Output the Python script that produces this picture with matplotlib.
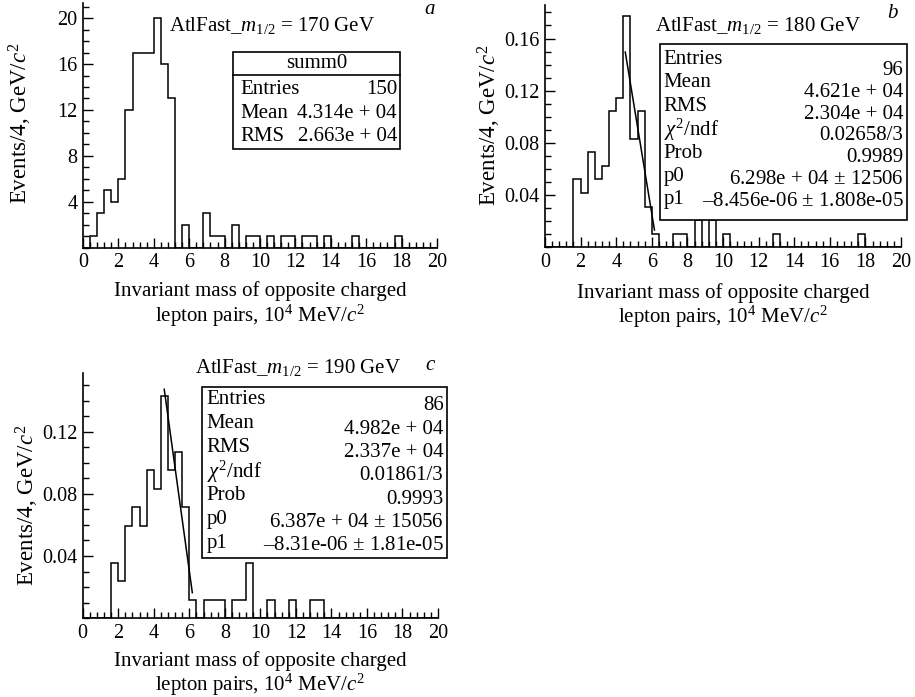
import numpy as np
import matplotlib
matplotlib.use("Agg")
import matplotlib.pyplot as plt
from matplotlib.patches import Rectangle
from matplotlib.ticker import MultipleLocator

plt.rcParams["font.family"] = ["Liberation Serif", "DejaVu Serif"]
plt.rcParams["mathtext.fontset"] = "custom"
plt.rcParams["mathtext.rm"] = "Liberation Serif"
plt.rcParams["mathtext.it"] = "Liberation Serif:italic"

W, H = 915, 697

# ---- data (50 bins, 0..20 x 10^4 MeV) ----
x_min, x_max, n_bins = 0.0, 20.0, 50
counts_a = [0, 1, 3, 5, 4, 6, 12, 17, 17, 17, 20, 16, 13, 0, 2, 0, 0, 3, 1, 1,
            0, 2, 0, 1, 1, 0, 1, 0, 1, 1, 0, 1, 1, 0, 1, 0, 0, 0, 1, 0,
            0, 0, 0, 0, 1, 0, 0, 0, 0, 0]
counts_b = [0, 0, 0, 0, 5, 4, 7, 5, 6, 10, 11, 17, 8, 10, 3, 1, 0, 0, 1, 1,
            0, 2, 0, 2, 0, 1, 0, 0, 0, 0, 0, 0, 1, 0, 0, 0, 0, 0, 0, 0,
            0, 0, 0, 0, 1, 0, 0, 0, 0, 0]
counts_c = [0, 0, 0, 0, 3, 2, 5, 6, 5, 8, 7, 12, 8, 9, 6, 1, 0, 1, 1, 1,
            0, 1, 1, 3, 0, 0, 1, 0, 0, 1, 0, 0, 1, 1, 0, 0, 0, 0, 0, 0,
            0, 0, 0, 0, 0, 0, 0, 0, 0, 0]

# straight-line fits drawn on b and c (end points)
fit_b_x = [4.51, 6.15]
fit_b_y = [0.1496, 0.0132]
fit_c_x = [4.59, 6.17]
fit_c_y = [0.1472, 0.0164]

titles = ["AtlFast_$m_{1/2}$ = 170 GeV", "AtlFast_$m_{1/2}$ = 180 GeV",
          "AtlFast_$m_{1/2}$ = 190 GeV"]

stats_a_labels = ["Entries", "Mean", "RMS"]
stats_a_values = ["150", "4.314e + 04", "2.663e + 04"]
stats_b_labels = ["Entries", "Mean", "RMS", "$\\chi^2$/ndf", "Prob", "p0", "p1"]
stats_b_values = ["96", "4.621e + 04", "2.304e + 04", "0.02658/3", "0.9989",
                  "6.298e + 04 $\\pm$ 12506", "\u20138.456e-06 $\\pm$ 1.808e-05"]
stats_c_labels = ["Entries", "Mean", "RMS", "$\\chi^2$/ndf", "Prob", "p0", "p1"]
stats_c_values = ["86", "4.982e + 04", "2.337e + 04", "0.01861/3", "0.9993",
                  "6.387e + 04 $\\pm$ 15056", "\u20138.31e-06 $\\pm$ 1.81e-05"]

edges = np.linspace(x_min, x_max, n_bins + 1)


def fx(x):
    return x / W


def fy(y):
    return 1 - y / H


def make_axes(fig, l, t, r, b):
    ax = fig.add_axes([fx(l), fy(b), (r - l) / W, (b - t) / H])
    ax.spines["top"].set_visible(False)
    ax.spines["right"].set_visible(False)
    for s in ["left", "bottom"]:
        ax.spines[s].set_linewidth(1.2)
    ax.set_xlim(x_min, x_max)
    ax.xaxis.set_major_locator(MultipleLocator(2))
    ax.xaxis.set_minor_locator(MultipleLocator(0.4))
    ax.tick_params(which="both", direction="in", width=1.0, labelsize=14.5)
    ax.tick_params(which="major", length=7)
    ax.tick_params(which="minor", length=4)
    ax.tick_params(axis="x", pad=4)
    ax.tick_params(axis="y", pad=4)
    return ax


def axis_texts(fig, l, r, ylab_x, yc, xl1, xl2):
    fig.text(fx(ylab_x), fy(yc), "Events/4, GeV/$c^2$", rotation=90,
             ha="center", va="center", fontsize=16.5)
    xc = (l + r) / 2
    fig.text(fx(xc), fy(xl1), "Invariant mass of opposite charged",
             ha="center", va="center", fontsize=15)
    fig.text(fx(xc), fy(xl2), "lepton pairs, 10$^4$ MeV/$c^2$",
             ha="center", va="center", fontsize=15)


def stats_box(fig, x0, y0, x1, y1, labels, values, lx, ly0, ldy, vx, vy0, vdy):
    fig.patches.append(Rectangle((fx(x0), fy(y1)), (x1 - x0) / W, (y1 - y0) / H,
                                 transform=fig.transFigure, facecolor="white",
                                 edgecolor="black", lw=1.2, zorder=5))
    for i, (lab, val) in enumerate(zip(labels, values)):
        fig.text(fx(lx), fy(ly0 + i * ldy), lab, ha="left", va="center",
                 fontsize=15, zorder=6)
        fig.text(fx(vx), fy(vy0 + i * vdy), val, ha="right", va="center",
                 fontsize=15, zorder=6)


fig = plt.figure(figsize=(W / 100, H / 100), dpi=100)

# ---------------- panel a ----------------
ax = make_axes(fig, 83, 3.3, 437, 247.5)
ax.stairs(counts_a, edges, color="black", lw=1.1)
ax.set_ylim(0, 21.3)
ax.set_yticks([4, 8, 12, 16, 20])
ax.yaxis.set_minor_locator(MultipleLocator(1))
axis_texts(fig, 83, 437, 20, 123, 291, 316)
fig.text(fx(272), fy(25), titles[0], ha="center", va="center", fontsize=15)
fig.text(fx(430), fy(10), "a", ha="center", va="center", fontsize=15, style="italic")
fig.patches.append(Rectangle((fx(233), fy(149)), (400 - 233) / W, (149 - 52) / H,
                             transform=fig.transFigure, facecolor="white",
                             edgecolor="black", lw=1.2, zorder=5))
fig.lines.append(plt.Line2D([fx(233), fx(400)], [fy(75), fy(75)],
                            transform=fig.transFigure, color="black", lw=1.2, zorder=6))
fig.text(fx(316.5), fy(64), "summ0", ha="center", va="center", fontsize=15, zorder=6)
for i, (lab, val) in enumerate(zip(stats_a_labels, stats_a_values)):
    fig.text(fx(240), fy(90 + i * 23.3), lab, ha="left", va="center", fontsize=15, zorder=6)
    fig.text(fx(397), fy(90 + i * 23.3), val, ha="right", va="center", fontsize=15, zorder=6)

# ---------------- panel b ----------------
cb = np.array(counts_b, dtype=float)
ax = make_axes(fig, 545, 5, 901, 247.3)
ax.stairs(cb / cb.sum(), edges, color="black", lw=1.1)
ax.plot(fit_b_x, fit_b_y, color="black", lw=1.1)
ax.set_ylim(0, 0.1857)
ax.set_yticks([0.04, 0.08, 0.12, 0.16])
ax.set_yticklabels(["0.04", "0.08", "0.12", "0.16"])
ax.yaxis.set_minor_locator(MultipleLocator(0.01))
axis_texts(fig, 545, 901, 489, 125, 293, 317)
fig.text(fx(758), fy(25), titles[1], ha="center", va="center", fontsize=15)
fig.text(fx(892), fy(13), "b", ha="center", va="center", fontsize=15, style="italic")
stats_box(fig, 660, 43.5, 906.5, 220, stats_b_labels, stats_b_values,
          663.5, 59.5, 23.4, 903.5, 70.5, 21.8)

# ---------------- panel c ----------------
cc = np.array(counts_c, dtype=float)
ax = make_axes(fig, 82.7, 373.3, 438, 618.2)
ax.stairs(cc / cc.sum(), edges, color="black", lw=1.1)
ax.plot(fit_c_x, fit_c_y, color="black", lw=1.1)
ax.set_ylim(0, 0.1575)
ax.set_yticks([0.04, 0.08, 0.12])
ax.set_yticklabels(["0.04", "0.08", "0.12"])
ax.yaxis.set_minor_locator(MultipleLocator(0.01))
axis_texts(fig, 82.7, 438, 27, 505, 661, 685)
fig.text(fx(298), fy(368), titles[2], ha="center", va="center", fontsize=15)
fig.text(fx(430), fy(366), "c", ha="center", va="center", fontsize=15, style="italic")
stats_box(fig, 201.7, 386.7, 446.7, 558.3, stats_c_labels, stats_c_values,
          206.7, 400, 23.9, 443.5, 406, 23.3)

fig.savefig("out.png", dpi=100)
